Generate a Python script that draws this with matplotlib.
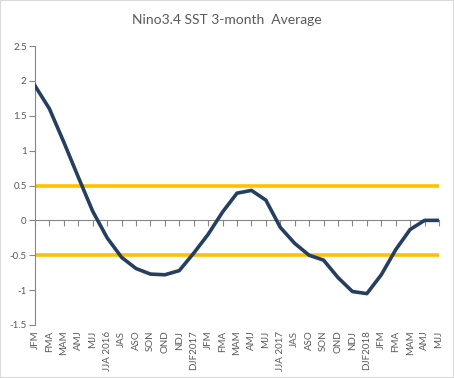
import matplotlib
matplotlib.use("Agg")
import matplotlib.pyplot as plt
from matplotlib.patches import Rectangle

plt.rcParams['font.family'] = ['Lato', 'DejaVu Sans']

categories = ["JFM", "FMA", "MAM", "AMJ", "MJJ", "JJA 2016", "JAS", "ASO", "SON", "OND", "NDJ", "DJF2017",
              "JFM", "FMA", "MAM", "AMJ", "MJJ", "JJA 2017", "JAS", "ASO", "SON", "OND", "NDJ", "DJF2018",
              "JFM", "FMA", "MAM", "AMJ", "MJJ"]
sst = [1.93, 1.60, 1.12, 0.62, 0.13, -0.25, -0.53, -0.69, -0.77, -0.78, -0.72, -0.47,
       -0.20, 0.12, 0.39, 0.43, 0.29, -0.10, -0.33, -0.50, -0.57, -0.82, -1.02, -1.05,
       -0.78, -0.42, -0.13, 0.00, 0.00]
thresholds = [0.5, -0.5]
yticks = [-1.5, -1, -0.5, 0, 0.5, 1, 1.5, 2, 2.5]

grey = "#595959"
axisgrey = "#868686"

fig = plt.figure(figsize=(4.54, 3.78), dpi=100)
fig.patches.append(Rectangle((0, 0), 1, 1, transform=fig.transFigure, fill=False,
                             edgecolor="#D9D9D9", linewidth=1.5))
ax = fig.add_axes([35/454, 1 - 325/378, (439-35)/454, (325-46)/378])

x = list(range(len(categories)))
for t in thresholds:
    ax.axhline(t, color="#FFC000", linewidth=2.6, zorder=2)
ax.plot(x, sst, color="#243F60", linewidth=2.6, zorder=3, solid_joinstyle='round')

ax.set_xlim(0, len(categories) - 1)
ax.set_ylim(-1.5, 2.5)
ax.set_yticks(yticks)
ax.set_yticklabels([f"{v:g}" for v in yticks])
ax.tick_params(axis='y', colors=axisgrey, labelcolor=grey, labelsize=7, length=4, width=0.8, pad=2)

for s in ['top', 'right']:
    ax.spines[s].set_visible(False)
ax.spines['left'].set_color(axisgrey)
ax.spines['left'].set_linewidth(0.8)
ax.spines['bottom'].set_position(('data', 0))
ax.spines['bottom'].set_color(axisgrey)
ax.spines['bottom'].set_linewidth(0.8)
ax.set_xticks(x)
ax.tick_params(axis='x', colors=axisgrey, length=4, width=0.8, labelbottom=False)

sec = ax.secondary_xaxis('bottom')
sec.set_xticks(x)
sec.set_xticklabels(categories, rotation=90)
sec.tick_params(length=0, labelsize=7, labelcolor=grey, pad=4)
sec.spines['bottom'].set_visible(False)

fig.text(0.5, 1 - 20/378, "Nino3.4 SST 3-month  Average", ha='center', va='center',
         fontsize=10, color=grey)

fig.savefig("out.png", dpi=100)
